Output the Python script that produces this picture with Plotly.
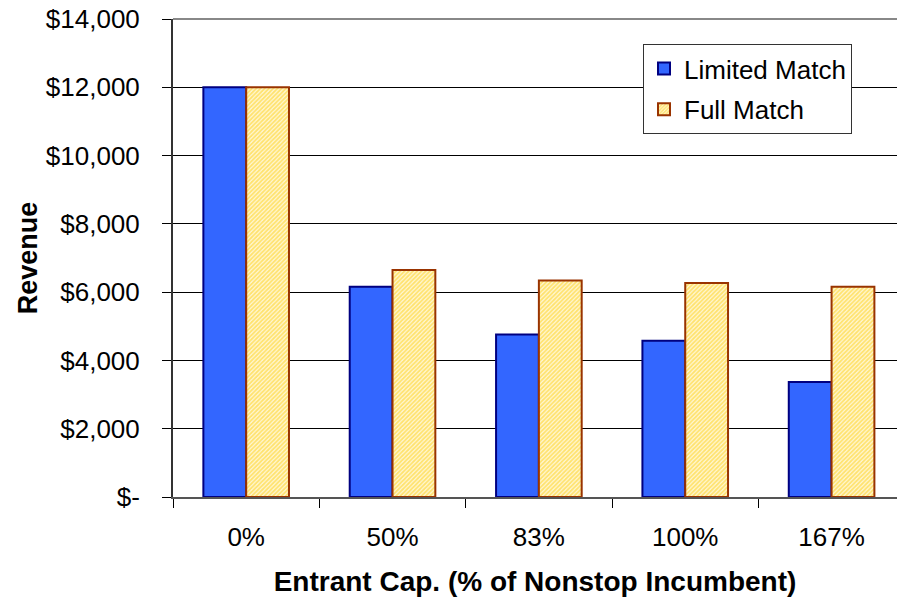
import plotly.graph_objects as go

categories = ["0%", "50%", "83%", "100%", "167%"]
limited_match = [12000, 6160, 4760, 4580, 3370]
full_match = [12000, 6650, 6340, 6270, 6160]

y_tickvals = [0, 2000, 4000, 6000, 8000, 10000, 12000, 14000]
y_ticktext = ["$-", "$2,000", "$4,000", "$6,000", "$8,000", "$10,000", "$12,000", "$14,000"]

FONT = "Liberation Sans, Arial, sans-serif"

fig = go.Figure()
fig.add_trace(go.Bar(
    x=categories, y=limited_match, name="Limited Match",
    legendgroup="a",
    marker=dict(color="#3366FF", line=dict(color="#000080", width=2)),
))
fig.add_trace(go.Bar(
    x=categories, y=full_match, name="Full Match",
    legendgroup="b",
    marker=dict(
        color="#FFF0B0",
        line=dict(color="#993300", width=2),
        pattern=dict(shape="/", fgcolor="#FFCC00", bgcolor="#FFF8DA", size=3, solidity=0.6),
    ),
))

# top border of the plot area (gray line at the top of the value axis)
fig.add_shape(type="line", xref="x domain", yref="y domain",
              x0=0, x1=1, y0=1, y1=1, line=dict(color="#888888", width=2), layer="below")

fig.update_layout(
    width=897, height=597,
    margin=dict(l=173, r=0, t=19, b=100, autoexpand=False),
    paper_bgcolor="white", plot_bgcolor="white",
    barmode="group", bargap=0.415, bargroupgap=0,
    font=dict(family=FONT, size=26, color="black"),
    legend=dict(
        x=1.0 - 45 / 724, y=(497 - 44) / 478, xanchor="right", yanchor="top",
        bgcolor="white", bordercolor="#333333", borderwidth=1,
        font=dict(family=FONT, size=26, color="black"),
        traceorder="grouped", tracegroupgap=4,
    ),
    xaxis=dict(
        range=[-0.5, 4.447], automargin=False,
        showline=True, linecolor="#555555", linewidth=2,
        ticks="outside", ticklen=9, tickcolor="black", tickson="boundaries",
        ticklabelstandoff=16,
        tickfont=dict(family=FONT, size=26),
        title=dict(text="<b>Entrant Cap. (% of Nonstop Incumbent)</b>",
                   font=dict(family=FONT, size=28), standoff=20),
        showgrid=False, zeroline=False,
    ),
    yaxis=dict(
        range=[0, 14000], automargin=False,
        tickvals=y_tickvals, ticktext=y_ticktext,
        ticklabeloverflow="allow",
        showline=True, linecolor="#333333", linewidth=2,
        ticks="outside", ticklen=9, tickcolor="black",
        ticklabelstandoff=17,
        tickfont=dict(family=FONT, size=26),
        showgrid=True, gridcolor="black", gridwidth=1,
        zeroline=False,
        title=dict(text="<b>Revenue</b>", font=dict(family=FONT, size=27), standoff=0),
    ),
)

fig.write_html("out.html", config={"displayModeBar": False})

# remove the browser's default 8px page margin so the figure sits at (0, 0)
with open("out.html", "r", encoding="utf-8") as f:
    html = f.read()
html = html.replace("<head>", "<head><style>html,body{margin:0;padding:0;overflow:hidden;}</style>", 1)
with open("out.html", "w", encoding="utf-8") as f:
    f.write(html)
